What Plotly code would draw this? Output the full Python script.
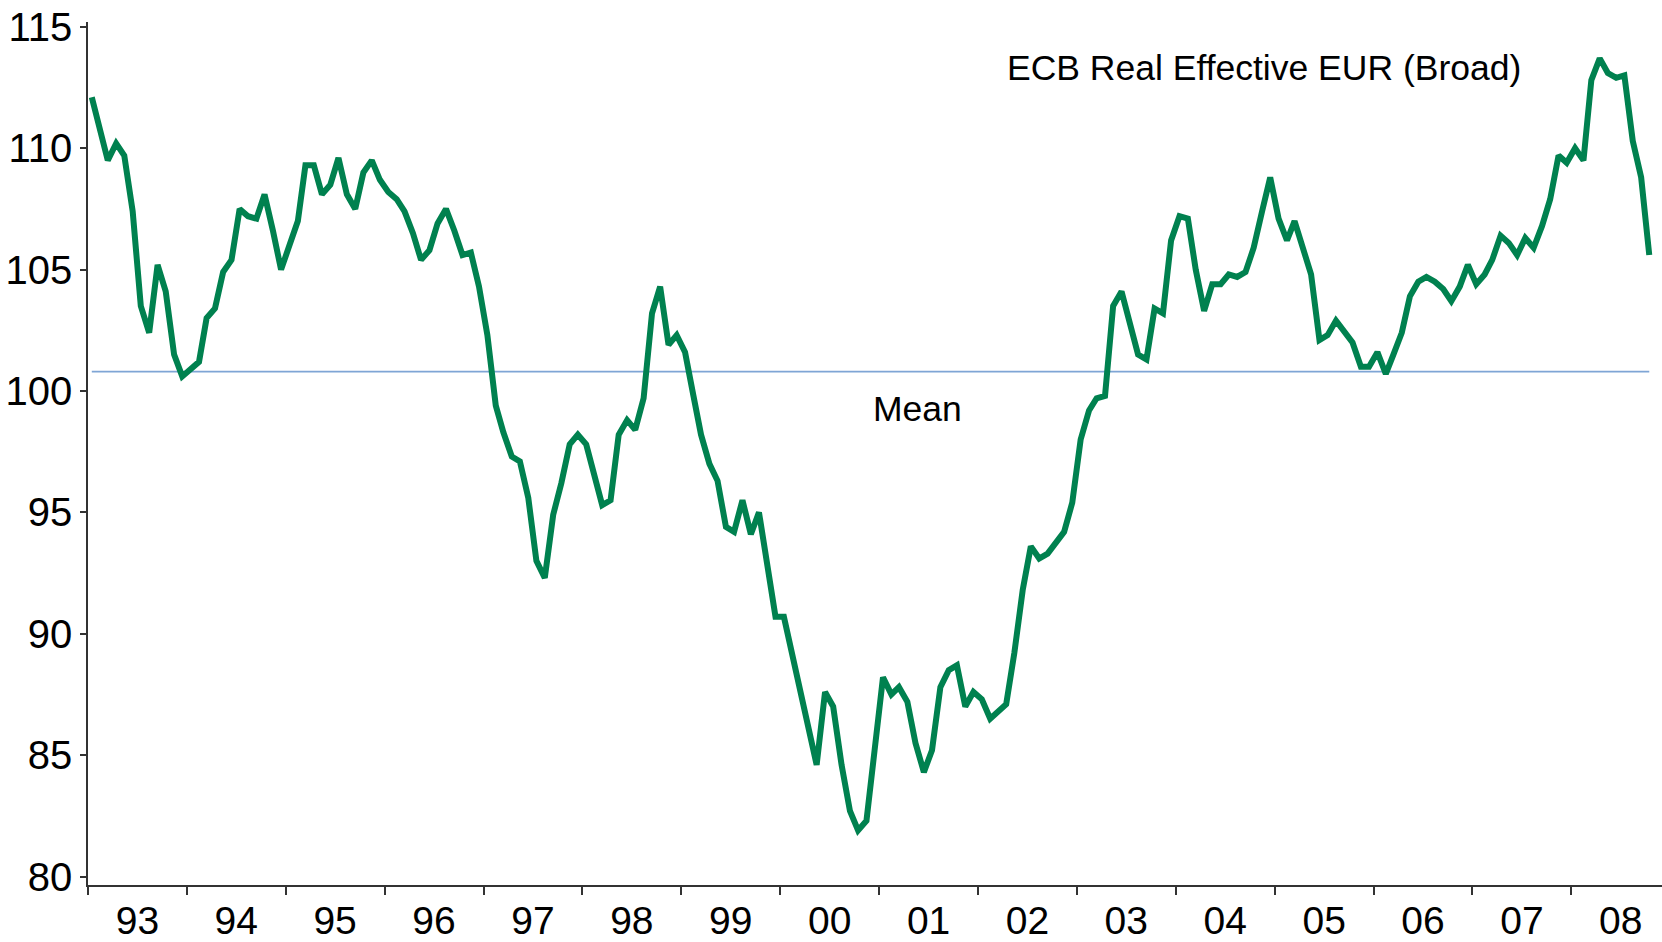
import numpy as np
import pandas as pd
import plotly.graph_objects as go

# ECB real effective exchange rate of the euro, broad group, monthly index
v1993 = [112.1, 110.8, 109.5, 110.2, 109.7, 107.4, 103.5, 102.4, 105.2, 104.1, 101.5, 100.6]
v1994 = [100.9, 101.2, 103.0, 103.4, 104.9, 105.4, 107.5, 107.2, 107.1, 108.1, 106.6, 105.0]
v1995 = [106.0, 107.0, 109.3, 109.3, 108.1, 108.5, 109.6, 108.1, 107.5, 109.0, 109.5, 108.7]
v1996 = [108.2, 107.9, 107.4, 106.5, 105.4, 105.8, 106.9, 107.5, 106.6, 105.6, 105.7, 104.3]
v1997 = [102.3, 99.4, 98.3, 97.3, 97.1, 95.6, 93.0, 92.3, 94.9, 96.2, 97.8, 98.2]
v1998 = [97.8, 96.5, 95.3, 95.5, 98.2, 98.8, 98.4, 99.7, 103.2, 104.3, 101.9, 102.3]
v1999 = [101.6, 99.8, 98.2, 97.0, 96.3, 94.4, 94.2, 95.5, 94.1, 95.0, 92.7, 90.7]
v2000 = [90.7, 89.2, 87.6, 86.3, 84.6, 87.6, 87.0, 84.6, 82.7, 81.9, 82.3, 85.2]
v2001 = [88.2, 87.5, 87.8, 87.2, 85.5, 84.3, 85.2, 87.8, 88.5, 88.7, 87.0, 87.6]
v2002 = [87.3, 86.5, 86.8, 87.1, 89.2, 91.8, 93.6, 93.1, 93.3, 93.7, 94.2, 95.4]
v2003 = [98.0, 99.2, 99.7, 99.8, 103.5, 104.1, 102.8, 101.5, 101.3, 103.4, 103.2, 106.2]
v2004 = [107.2, 107.1, 105.0, 103.3, 104.4, 104.4, 104.8, 104.7, 104.9, 105.9, 107.4, 108.8]
v2005 = [107.1, 106.2, 107.0, 105.9, 104.8, 102.1, 102.3, 102.9, 102.4, 102.0, 101.0, 101.0]
v2006 = [101.6, 100.7, 101.5, 102.4, 103.9, 104.5, 104.7, 104.5, 104.2, 103.7, 104.3, 105.2]
v2007 = [104.4, 104.8, 105.4, 106.4, 106.1, 105.6, 106.3, 105.9, 106.8, 107.9, 109.7, 109.4]
v2008 = [110.0, 109.5, 112.8, 113.7, 113.1, 112.9, 113.0, 110.3, 108.8, 105.6]

FIRST_MONTH = "1993-01-01"
Y_TICKS = [80, 85, 90, 95, 100, 105, 110, 115]

reer = (v1993 + v1994 + v1995 + v1996 + v1997 + v1998 + v1999 + v2000
        + v2001 + v2002 + v2003 + v2004 + v2005 + v2006 + v2007 + v2008)
months = pd.date_range(FIRST_MONTH, periods=len(reer), freq="MS") + pd.Timedelta(days=14)
mean_value = float(np.mean(reer))

FONT = "Arial, Liberation Sans, sans-serif"
GREEN = "#00814F"
MEAN_BLUE = "#7FA5D5"

fig = go.Figure()
fig.add_trace(go.Scatter(
    x=months, y=[mean_value] * len(reer), mode="lines",
    line=dict(color=MEAN_BLUE, width=1.6), hoverinfo="skip", showlegend=False,
))
fig.add_trace(go.Scatter(
    x=months, y=reer, mode="lines",
    line=dict(color=GREEN, width=6), showlegend=False,
))

fig.add_annotation(
    text="ECB Real Effective EUR (Broad)", xref="paper", yref="paper",
    x=0.5826, y=0.9467, xanchor="left", yanchor="middle", showarrow=False,
    font=dict(family=FONT, size=35.5, color="black"),
)
fig.add_annotation(
    text="Mean", xref="paper", yref="y",
    x=0.5273, y=mean_value, xanchor="center", yanchor="top", yshift=-15,
    showarrow=False, font=dict(family=FONT, size=35.5, color="black"),
)

fig.update_layout(
    width=1662, height=942,
    margin=dict(l=88, r=0, t=22, b=57),
    paper_bgcolor="white", plot_bgcolor="white",
    font=dict(family=FONT, color="black"),
)
fig.update_xaxes(
    type="date", range=["1993-01-01", "2008-12-01"], automargin=False,
    tick0="1993-01-01", dtick="M12", ticklabelmode="period", tickformat="%y",
    ticks="outside", ticklen=8, tickwidth=1.5, tickcolor="#333333",
    ticklabelstandoff=-8,
    showline=True, linecolor="#333333", linewidth=1.5,
    showgrid=False, zeroline=False,
    tickfont=dict(family=FONT, size=39, color="black"),
)
fig.update_yaxes(
    range=[79.65, 115.2], tickvals=Y_TICKS, automargin=False,
    ticks="outside", ticklen=6, tickwidth=1.5, tickcolor="#333333",
    showline=True, linecolor="#333333", linewidth=1.5,
    showgrid=False, zeroline=False,
    tickfont=dict(family=FONT, size=40, color="black"),
)

fig.write_html("out.html")
